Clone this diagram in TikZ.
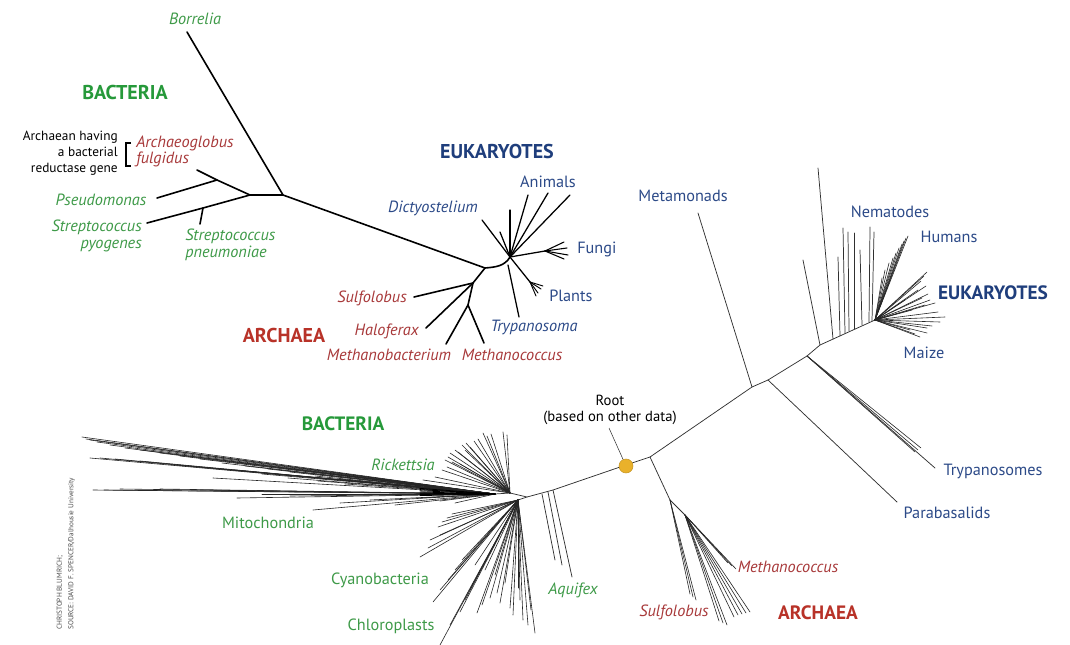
\documentclass[tikz,border=0pt]{standalone}
\usepackage{fontspec}
\setmainfont{PT Sans}
\definecolor{lblgreen}{HTML}{3E9A48}
\definecolor{hdgreen}{HTML}{26993A}
\definecolor{lblred}{HTML}{A8393A}
\definecolor{hdred}{HTML}{B83228}
\definecolor{lblblue}{HTML}{2C4A88}
\definecolor{hdblue}{HTML}{1F3E7C}
\definecolor{rootdot}{HTML}{E9B12B}
\definecolor{twiggray}{HTML}{303030}
\tikzset{
  lbl/.style={font=\fontsize{12.2}{14}\selectfont, inner sep=0pt},
  ital/.style={font=\itshape\fontsize{12.2}{14}\selectfont},
  grn/.style={lbl, text=lblgreen},
  red/.style={lbl, text=lblred},
  blu/.style={lbl, text=lblblue},
  hdbig/.style={inner sep=0pt, font=\bfseries\fontsize{15}{16}\selectfont},
  hdsmall/.style={inner sep=0pt, font=\bfseries\fontsize{14.5}{16}\selectfont},
  branch/.style={line width=1.2pt, line cap=round, line join=round},
  twig/.style={line width=0.55pt, twiggray, line cap=round},
  fine/.style={line width=0.45pt, black!85, line cap=round},
}
\begin{document}
\begin{tikzpicture}[x=0.75pt, y=-0.75pt]
\useasboundingbox[fill=white] (0,0) rectangle (1070,645);

% ---------------- upper tree (unrooted) ----------------
\coordinate (A) at (283,195);
\coordinate (B) at (250,195);
\coordinate (C) at (217,180);
\coordinate (D) at (203,208);
\coordinate (E) at (485,268);
\coordinate (F) at (510,257);
\coordinate (G) at (473,283);
\coordinate (H) at (468,305);
\coordinate (borE) at (187,32);
\coordinate (arcE) at (197,170);
\coordinate (psE) at (157,198);
\coordinate (spyE) at (147,223);
\coordinate (spnE) at (200,224);
\coordinate (sulE) at (414,297);
\coordinate (halE) at (426,328);
\coordinate (mbE) at (446,344);
\coordinate (mcE) at (484,343);
\coordinate (plN) at (530,282);
\coordinate (fuN) at (545,251);

\draw[branch] (borE) -- (A) -- (E);
\draw[branch] (A) -- (B) -- (C) -- (arcE);
\draw[branch] (C) -- (psE);
\draw[branch] (B) -- (D) -- (spyE);
\draw[branch] (D) -- (spnE);
\draw[branch] (E) to[out=5,in=-120] (F);
\draw[branch] (E) -- (G) -- (sulE);
\draw[branch] (G) -- (halE);
\draw[branch] (G) -- (H) -- (mbE);
\draw[branch] (H) -- (mcE);
% eukaryote crown
\foreach \ex/\ey in {482/220, 500/232, 510/210, 528/195, 548/193, 570/195}
  \draw[branch, line width=0.95pt] (F) -- (\ex,\ey);
\draw[branch, line width=0.95pt] (F) -- (fuN);
\foreach \ex/\ey in {564/242, 567/248, 568/255, 564/259}
  \draw[branch, line width=0.8pt] (fuN) -- (\ex,\ey);
\draw[branch, line width=0.95pt] (F) -- (plN);
\foreach \ex/\ey in {541/289, 538/293, 543/286, 536/296}
  \draw[branch, line width=0.7pt] (plN) -- (\ex,\ey);
\draw[branch, line width=0.95pt] (508,265) -- (519,317);

% labels, upper tree
\node[grn, ital] (borL) at (195,19) {Borrelia};
\node[hdbig, text=hdgreen] (bacU) at (125,93) {BACTERIA};
\node[lbl, align=right, anchor=east, font=\fontsize{10}{12.2}\selectfont] (archNote) at (118,153)
  {Archaean having\\a bacterial\\reductase gene};
\draw[line width=0.9pt] (131,143) -- (126,143) -- (126,166) -- (131,166);
\node[red, ital, align=left, anchor=west, font=\itshape\fontsize{12.2}{12}\selectfont] (arcL) at (136,151)
  {Archaeoglobus\\fulgidus};
\node[grn, ital] (psL) at (101,200) {Pseudomonas};
\node[grn, ital, align=right, anchor=east, font=\itshape\fontsize{12.2}{12.5}\selectfont] (spyL) at (142,236)
  {Streptococcus\\pyogenes};
\node[grn, ital, align=left, anchor=west, font=\itshape\fontsize{12.2}{12.5}\selectfont] (spnL) at (185,245)
  {Streptococcus\\pneumoniae};
\node[hdbig, text=hdblue] (eukU) at (497,152) {EUKARYOTES};
\node[blu] (aniL) at (548,182) {Animals};
\node[blu, ital] (dicL) at (433,208) {Dictyostelium};
\node[blu, anchor=west] (funL) at (577,249) {Fungi};
\node[blu, anchor=west] (plaL) at (549,296) {Plants};
\node[blu, ital] (trL) at (534,327) {Trypanosoma};
\node[red, ital, anchor=east] (sulL) at (407,298) {Sulfolobus};
\node[hdbig, text=hdred] (arcU) at (284,335) {ARCHAEA};
\node[red, ital, anchor=east] (halL) at (419,331) {Haloferax};
\node[red, ital] (mbL) at (389,355) {Methanobacterium};
\node[red, ital] (mcL) at (512,355) {Methanococcus};

% ---------------- lower tree (rooted) ----------------
\coordinate (bhub) at (527,497);
\coordinate (bu) at (510,493);
\coordinate (bl) at (518,500);
\coordinate (mhub) at (495,494);
\coordinate (aq) at (553,490);
\coordinate (lnode) at (650,457);
\coordinate (metN) at (752,387);
\coordinate (parN) at (768,380);
\coordinate (tryN) at (807,356);
\coordinate (vN) at (820,345);
\coordinate (crown) at (875,320);
\coordinate (aN1) at (670,500);
\coordinate (aN2) at (685,515);

% main axis
\draw[twig] (bhub) -- (aq) -- (623,466) -- (lnode) -- (metN) -- (parN) -- (tryN) -- (vN) -- (crown);
\draw[twig] (bu) -- (bhub) (bl) -- (bhub) (mhub) -- (bu);

% mitochondria bundle
\foreach \sx/\sy in {82/437, 86/439, 90/440, 97/442, 110/445, 125/448, 140/450, 160/453,
  180/456, 200/459, 222/463, 245/466, 268/469, 290/472, 315/476, 340/479, 365/482, 390/485,
  90/458, 100/458, 115/459, 140/461, 175/465, 213/478, 235/470, 262/474, 288/478, 318/481, 345/484,
  93/490, 104/490, 120/489, 160/489, 200/490, 237/498, 262/494, 290/496, 313/510, 340/503,
  370/500, 395/505, 420/498, 440/501, 455/503, 430/488, 410/484}
  \draw[fine] (\sx,\sy) -- (mhub);
\foreach \dy in {-3,-2,-1,0,1,2,3}
  \draw[fine, line width=0.6pt, black] (420,{492+\dy*1.2}) -- (mhub);

% bacteria: upper fan
\foreach \ex/\ey in {483/433, 487/436, 491/434, 503/432, 507/435, 462/445, 466/443, 470/447,
  474/441, 478/439, 455/450, 450/453, 448/457, 445/460, 452/462, 460/464, 423/480, 435/477,
  442/470, 447/467, 458/452, 465/450}
  \draw[fine] (bu) -- (\ex,\ey);
% bacteria: lower fan
\foreach \ex/\ey in {438/527, 442/522, 447/518, 452/514, 430/540, 420/557, 428/548, 440/535,
  433/602, 440/590, 448/580, 455/570, 462/560, 440/645, 450/625, 460/612, 465/600, 470/590,
  477/613, 482/605, 490/598, 497/593, 500/603, 510/608, 513/615, 518/588, 520/600, 523/620,
  528/625, 535/633, 531/610, 505/583, 495/575, 485/570, 475/565}
  \draw[fine] (bl) -- (\ex,\ey);
% Aquifex group
\draw[twig] (542,494) -- (555,560);
\draw[twig] (548,492) -- (562,565);
\draw[twig] (aq) -- (572,577);

% archaea, lower tree
\draw[twig] (lnode) -- (aN1) -- (aN2);
\foreach \ex/\ey in {693/597, 690/594, 696/600}
  \draw[fine] (aN1) -- (\ex,\ey);
\foreach \ex/\ey in {723/623, 719/621, 727/625, 728/563, 732/566, 736/569, 750/612,
  746/613, 742/614, 738/615, 734/617}
  \draw[fine] (aN2) -- (\ex,\ey);

% eukaryotes, lower tree
\draw[twig] (metN) -- (698,213);
\draw[twig] (parN) -- (897,502);
\foreach \ex/\ey in {915/452, 918/450, 921/448}
  \draw[fine] (tryN) -- (\ex,\ey);
\draw[twig] (tryN) -- (935,468);
\draw[twig] (vN) -- (803,260);
\draw[twig] (833,339) -- (818,168);
\draw[twig] (840,336) -- (838,257);
\draw[twig] (845,333) -- (843,228);
\draw[twig] (849,331) -- (848,232);
\draw[twig] (854,329) -- (854,233);
\draw[twig] (862,325) -- (860,250);
\draw[twig] (869,322) -- (870,227);
\draw[twig] (872,321) -- (874,232);
\foreach \ex/\ey in {908/236, 906/238, 904/241, 902/244, 899/248, 896/253, 893/258, 889/263,
  885/270, 882/278, 927/272, 924/276, 921/281, 926/286, 918/290, 928/294, 922/298, 930/300,
  935/303, 925/305, 945/317, 938/312, 940/322, 927/328, 927/333, 920/337, 915/334, 910/330,
  932/326, 912/310, 905/300}
  \draw[fine] (crown) -- (\ex,\ey);

% root marker
\node[circle, fill=rootdot, draw=rootdot!85!black, line width=0.4pt, minimum size=10.5pt, inner sep=0pt] (root) at (626,466) {};
\coordinate (rootTip) at (609,428);
\draw[line width=0.4pt, black!80] (rootTip) -- (root);

% labels, lower tree
\node[lbl, align=center, font=\fontsize{11}{12.5}\selectfont] (rootL) at (610,410) {Root\\(based on other data)};
\node[hdsmall, text=hdgreen] (bacL) at (343,424) {BACTERIA};
\node[grn, ital] (ricL) at (403,465) {Rickettsia};
\node[grn] (mitL) at (268,523) {Mitochondria};
\node[grn] (cyaL) at (380,580) {Cyanobacteria};
\node[grn] (chlL) at (391,626) {Chloroplasts};
\node[grn, ital] (aquL) at (573,590) {Aquifex};
\node[blu] (metL) at (683,196) {Metamonads};
\node[blu] (nemL) at (890,212) {Nematodes};
\node[blu] (humL) at (949,237) {Humans};
\node[hdsmall, text=hdblue] (eukL) at (993,293) {EUKARYOTES};
\node[blu] (maiL) at (924,353) {Maize};
\node[blu] (tryL) at (993,471) {Trypanosomes};
\node[blu] (parL) at (947,513) {Parabasalids};
\node[red, ital] (mcL2) at (788,567) {Methanococcus};
\node[red, ital] (sulL2) at (674,612) {Sulfolobus};
\node[hdsmall, text=hdred] (arcL2) at (818,613) {ARCHAEA};

% credit line
\node[rotate=90, anchor=south west, align=left, inner sep=0pt, text=black!70,
  font=\fontsize{5.4}{8.5}\selectfont] (credit) at (75,630)
  {CHRISTOPH BLUMRICH;\\SOURCE: DAVID F. SPENCER/Dalhousie University};
\end{tikzpicture}
\end{document}
